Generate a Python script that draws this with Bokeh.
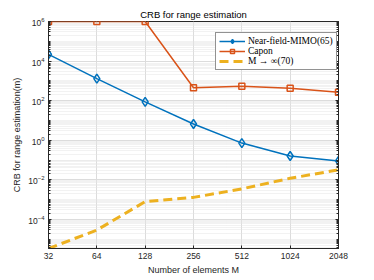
from bokeh.plotting import figure
from bokeh.models import FixedTicker, LogAxis, Range1d, Legend, LegendItem
from bokeh.embed import file_html
from bokeh.resources import INLINE

# ---- data ----
M = [32, 64, 128, 256, 512, 1024, 2048]
near_field = [2.2e4, 1.3e3, 87, 6.6, 0.72, 0.16, 0.09]
capon = [1e6, 1e6, 1e6, 450, 540, 425, 270]
m_inf = [3.4e-6, 2.9e-5, 7.9e-4, 1.3e-3, 3.5e-3, 0.012, 0.032]

x_tick_labels = ["32", "64", "128", "256", "512", "1024", "2048"]
y_major = [1e-4, 1e-2, 1e0, 1e2, 1e4, 1e6]

BLUE = "#0072BD"
ORANGE = "#D95319"
YELLOW = "#EDB120"
AX = "#262626"
FONT = "Liberation Sans"

y_minor = [k * 10.0 ** n for n in range(-6, 7) for k in range(1, 10)]

p = figure(width=374, height=280, x_axis_type="log", y_axis_type="log",
           x_range=Range1d(32, 2048), y_range=Range1d(3.4e-6, 1e6),
           output_backend="svg", toolbar_location=None,
           min_border_left=48, min_border_right=36, min_border_top=21,
           min_border_bottom=32)
p.background_fill_color = "white"
p.outline_line_color = AX
p.outline_line_width = 1

p.title.text = "CRB for range estimation"
p.title.align = "center"
p.title.text_font = FONT
p.title.text_font_size = "9.5px"
p.title.text_font_style = "normal"
p.title.text_color = "black"
p.title.standoff = 3

xt = FixedTicker(ticks=M, minor_ticks=[])
yt = FixedTicker(ticks=y_major, minor_ticks=y_minor)

for ax in p.xaxis:
    ax.ticker = xt
    ax.major_label_overrides = {m: s for m, s in zip(M, x_tick_labels)}
    ax.axis_label = "Number of elements M"
for ax in p.yaxis:
    ax.ticker = yt
    ax.axis_label = "CRB for range estimation(m)"

for ax in list(p.xaxis) + list(p.yaxis):
    ax.axis_line_color = AX
    ax.major_tick_line_color = AX
    ax.minor_tick_line_color = AX
    ax.major_tick_in = 3
    ax.major_tick_out = 0
    ax.minor_tick_in = 2
    ax.minor_tick_out = 0
    ax.major_label_text_font = FONT
    ax.major_label_text_font_size = "8.5px"
    ax.major_label_text_color = AX
    ax.axis_label_text_font = FONT
    ax.axis_label_text_font_size = "9px"
    ax.axis_label_text_font_style = "normal"
    ax.axis_label_text_color = AX
    ax.major_label_standoff = 4
    ax.axis_label_standoff = 3

right = LogAxis(ticker=yt, major_label_text_color=None, major_label_text_font_size="1px",
                axis_line_color=AX, major_tick_line_color=AX, minor_tick_line_color=AX,
                major_tick_in=3, major_tick_out=0, minor_tick_in=2, minor_tick_out=0,
                major_label_standoff=0)
p.add_layout(right, "right")

p.xgrid.grid_line_color = "#dcdcdc"
p.ygrid.grid_line_color = "#dcdcdc"
p.ygrid.minor_grid_line_color = "#e4e4e4"
p.ygrid.minor_grid_line_dash = "1 1"

l1 = p.line(M, near_field, line_color=BLUE, line_width=1.5)
s1 = p.scatter(M, near_field, marker="diamond", size=9, line_color=BLUE,
               fill_color=None, line_width=1.5)
l2 = p.line(M, capon, line_color=ORANGE, line_width=1.5)
s2 = p.scatter(M, capon, marker="square", size=6, line_color=ORANGE,
               fill_color=None, line_width=1.5)
l3 = p.line(M, m_inf, line_color=YELLOW, line_width=3, line_dash="9 5")

legend = Legend(items=[
    LegendItem(label="Near-field-MIMO(65)", renderers=[l1, s1]),
    LegendItem(label="Capon", renderers=[l2, s2]),
    LegendItem(label="M → ∞(70)", renderers=[l3]),
], location=(167, 178))
legend.label_text_font = "Liberation Serif"
legend.label_text_font_size = "9.5px"
legend.label_text_color = "black"
legend.label_height = 10
legend.glyph_height = 10
legend.glyph_width = 26
legend.label_standoff = 3
legend.spacing = 0
legend.padding = 3
legend.margin = 0
legend.border_line_color = AX
legend.border_line_width = 1
legend.background_fill_color = "white"
legend.background_fill_alpha = 1
p.add_layout(legend, "center")

open("out.html", "w").write(file_html(p, INLINE))
